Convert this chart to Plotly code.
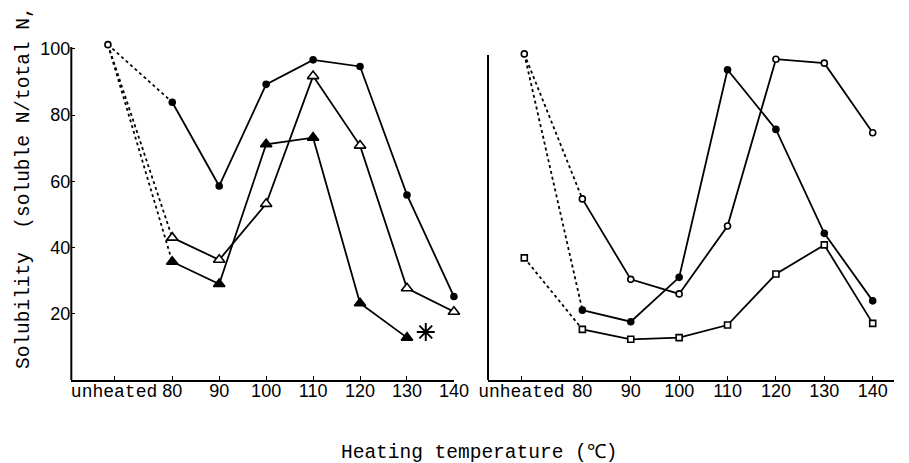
import plotly.graph_objects as go

# ---------------- data ----------------
temps = [80, 90, 100, 110, 120, 130, 140]
tick_temps = [80, 90, 100, 110, 120, 130, 140]
tick_labels = ["80", "90", "100", "110", "120", "130", "140"]
y_ticks = [20, 40, 60, 80, 100]

# left panel
left_unheated = 101.3
left_filled_circle = [83.9, 58.6, 89.3, 96.7, 94.7, 55.9, 25.2]
left_filled_triangle = [35.7, 29.0, 71.2, 73.2, 23.2, 12.8, None]
left_open_triangle = [43.0, 36.3, 53.2, 91.8, 70.8, 27.7, 20.6]
left_asterisk_temp = [134]
left_asterisk_val = [14.5]

# right panel
right_unheated_circle = 98.5
right_unheated_square = 36.9
right_open_circle = [54.7, 30.4, 26.0, 46.5, 96.9, 95.7, 74.7]
right_filled_circle = [21.1, 17.6, 31.0, 93.7, 75.7, 44.3, 23.9]
right_open_square = [15.3, 12.3, 12.8, 16.6, 32.0, 40.8, 17.1]

# position of the "unheated" category on the temperature scale
UNHEATED_PT_L, UNHEATED_TICK_L = 66.3, 67.6
UNHEATED_PT_R, UNHEATED_TICK_R = 68.0, 67.4

W, H = 909, 463
BLACK = "black"
LW = 1.8
DASH = "3px,3px"
MONO = "Liberation Mono, DejaVu Sans Mono, monospace"
NARROW = "Liberation Sans Narrow, Liberation Sans, Arial, sans-serif"

fig = go.Figure()


def add_series(xa, ya, unheated_x, unheated_val, vals, symbol, fill, size):
    # dashed link from unheated to 80
    fig.add_trace(go.Scatter(
        x=[unheated_x, temps[0]], y=[unheated_val, vals[0]],
        mode="lines", line=dict(color=BLACK, width=LW, dash=DASH),
        xaxis=xa, yaxis=ya, showlegend=False, hoverinfo="skip", cliponaxis=False))
    xs = [t for t, v in zip(temps, vals) if v is not None]
    ys = [v for v in vals if v is not None]
    fig.add_trace(go.Scatter(
        x=xs, y=ys, mode="lines+markers",
        line=dict(color=BLACK, width=LW),
        marker=dict(symbol=symbol, size=size, color=fill,
                    line=dict(color=BLACK, width=1.6)),
        xaxis=xa, yaxis=ya, showlegend=False, cliponaxis=False))


# left panel
add_series("x", "y", UNHEATED_PT_L, left_unheated, left_filled_circle, "circle", BLACK, 6)
add_series("x", "y", UNHEATED_PT_L, left_unheated, left_filled_triangle, "triangle-up", BLACK, 10)
add_series("x", "y", UNHEATED_PT_L, left_unheated, left_open_triangle, "triangle-up", "white", 10)
fig.add_trace(go.Scatter(
    x=[UNHEATED_PT_L], y=[left_unheated], mode="markers",
    marker=dict(symbol="circle", size=6, color="white", line=dict(color=BLACK, width=1.6)),
    xaxis="x", yaxis="y", showlegend=False, cliponaxis=False))
fig.add_trace(go.Scatter(
    x=left_asterisk_temp, y=left_asterisk_val, mode="markers",
    marker=dict(symbol="asterisk", size=15, line=dict(color=BLACK, width=2)),
    xaxis="x", yaxis="y", showlegend=False, cliponaxis=False))

# right panel
add_series("x2", "y2", UNHEATED_PT_R, right_unheated_circle, right_open_circle, "circle", "white", 6)
add_series("x2", "y2", UNHEATED_PT_R, right_unheated_circle, right_filled_circle, "circle", BLACK, 6)
add_series("x2", "y2", UNHEATED_PT_R, right_unheated_square, right_open_square, "square", "white", 6)
fig.add_trace(go.Scatter(
    x=[UNHEATED_PT_R, UNHEATED_PT_R], y=[right_unheated_circle, right_unheated_square],
    mode="markers",
    marker=dict(symbol=["circle", "square"], size=6, color="white",
                line=dict(color=BLACK, width=1.6)),
    xaxis="x2", yaxis="y2", showlegend=False, cliponaxis=False))

unheated_txt = "<span style=\"font-family:'Liberation Mono'\">unheated</span>"

plot_bot = 380
px_per_unit = 3.31
y_top_val = 103.0
plot_top = plot_bot - y_top_val * px_per_unit
ph = plot_bot - plot_top
left_axis_top_val = 100.6
right_axis_top_val = 98.2

xaxis_common = dict(showgrid=False, zeroline=False, showline=True, linecolor=BLACK,
                    linewidth=2, ticks="inside", ticklen=4, tickcolor=BLACK, tickwidth=1.2,
                    ticklabelstandoff=-7,
                    tickfont=dict(family=NARROW, size=18, color=BLACK))
yaxis_common = dict(showgrid=False, zeroline=False, showline=False,
                    ticks="inside", ticklen=4, tickcolor=BLACK, tickwidth=1.2,
                    tickfont=dict(family=NARROW, size=18, color=BLACK))

fig.update_layout(
    width=W, height=H,
    margin=dict(l=0, r=0, t=plot_top, b=H - plot_bot),
    paper_bgcolor="white", plot_bgcolor="white",
    xaxis=dict(xaxis_common, domain=[64 / W, 457 / W], range=[58.5, 140], anchor="y",
               tickmode="array", tickvals=[UNHEATED_TICK_L] + tick_temps,
               ticktext=[unheated_txt] + tick_labels),
    yaxis=dict(yaxis_common, domain=[0, 1], range=[0, y_top_val], anchor="x",
               tickmode="array", tickvals=y_ticks, ticktext=[str(v) for v in y_ticks],
               ticklabelstandoff=0),
    xaxis2=dict(xaxis_common, domain=[492 / W, 1], range=[60.5, 144.4], anchor="y2",
                tickmode="array", tickvals=[UNHEATED_TICK_R] + tick_temps,
                ticktext=[unheated_txt] + tick_labels),
    yaxis2=dict(yaxis_common, domain=[0, 1], range=[0, y_top_val], anchor="x2",
                ticks="", showticklabels=False),
    shapes=[
        dict(type="line", xref="x domain", yref="y", x0=0, x1=0,
             y0=0, y1=left_axis_top_val, line=dict(color=BLACK, width=2)),
        dict(type="line", xref="x2 domain", yref="y2", x0=0, x1=0,
             y0=0, y1=right_axis_top_val, line=dict(color=BLACK, width=2)),
    ],
    annotations=[
        dict(text="Heating temperature (℃)", xref="paper", yref="paper",
             x=483 / W, y=(plot_bot - 453) / ph, xanchor="center", yanchor="middle",
             showarrow=False, font=dict(family=MONO, size=19.5, color=BLACK)),
        dict(text="Solubility  (soluble N/total N,", xref="paper", yref="paper",
             x=16 / W, y=(plot_bot - 371) / ph, xanchor="center", yanchor="bottom",
             textangle=-90, showarrow=False, font=dict(family=MONO, size=19.5, color=BLACK)),
    ],
)

fig.write_html("out.html")
